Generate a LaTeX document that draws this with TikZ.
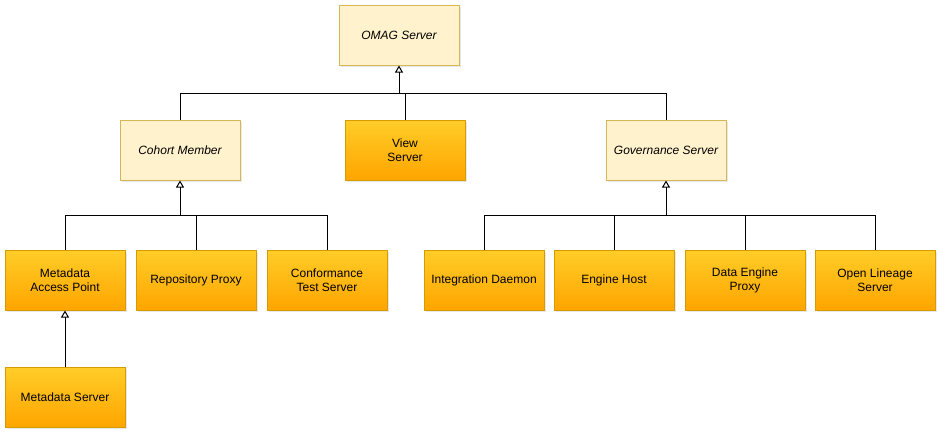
\documentclass[tikz,border=0pt]{standalone}
\usepackage{fontspec}
\setmainfont{Liberation Sans}
\usetikzlibrary{arrows.meta,shadows}
\definecolor{paleyellow}{HTML}{FFF2CC}
\definecolor{paleborder}{HTML}{D6B656}
\definecolor{orangetop}{HTML}{FFCD28}
\definecolor{orangebot}{HTML}{FFA500}
\definecolor{orangeborder}{HTML}{D79B00}
\tikzstyle{base}=[rectangle, minimum width=120pt, minimum height=60pt, inner sep=0pt, align=center, line width=1pt, anchor=center, font=\fontsize{12}{14}\selectfont, drop shadow={shadow xshift=2pt, shadow yshift=-2pt, opacity=0.18}]
\tikzstyle{abstractbox}=[base, fill=paleyellow, draw=paleborder, font=\fontsize{12}{14}\selectfont\itshape]
\tikzstyle{serverbox}=[base, top color=orangetop, bottom color=orangebot, draw=orangeborder]
\tikzstyle{link}=[line width=1pt, black]
\tikzstyle{inherit}=[link, -{Triangle[open, length=7pt, width=8pt]}]

\begin{document}
\begin{tikzpicture}[x=1pt, y=-1pt]
	\useasboundingbox (0,0) rectangle (951,445);

	% top level
	\node[abstractbox](omag) at (399,35){OMAG Server};
	\node[abstractbox](cohort) at (180,150){Cohort Member};
	\node[serverbox](view) at (405,150){View\\Server};
	\node[abstractbox](gov) at (666,150){Governance Server};

	% cohort members
	\node[serverbox](mdap) at (65,280){Metadata\\Access Point};
	\node[serverbox](repoproxy) at (196,280){Repository Proxy};
	\node[serverbox](cts) at (327,280){Conformance\\Test Server};
	\node[serverbox](mds) at (65,397){Metadata Server};

	% governance servers
	\node[serverbox](daemon) at (484,280){Integration Daemon};
	\node[serverbox](enginehost) at (614,280){Engine Host};
	\node[serverbox](deproxy) at (745,280){Data Engine\\Proxy};
	\node[serverbox](lineage) at (875,280){Open Lineage\\Server};

	\coordinate (topjoin) at (399,93);
	\coordinate (cohortjoin) at (180,215);
	\coordinate (govjoin) at (666,215);

	\draw[inherit] (topjoin) -- (omag.south);
	\draw[link] (cohort.north) |- (gov.north |- topjoin) -- (gov.north);
	\draw[link] (view.north) -- (view.north |- topjoin);

	\draw[inherit] (cohortjoin) -- (cohort.south);
	\draw[link] (mdap.north) |- (cts.north |- cohortjoin) -- (cts.north);
	\draw[link] (repoproxy.north) -- (repoproxy.north |- cohortjoin);

	\draw[inherit] (govjoin) -- (gov.south);
	\draw[link] (daemon.north) |- (lineage.north |- govjoin) -- (lineage.north);
	\draw[link] (enginehost.north) -- (enginehost.north |- govjoin);
	\draw[link] (deproxy.north) -- (deproxy.north |- govjoin);

	\draw[inherit] (mds.north) -- (mdap.south);

\end{tikzpicture}
\end{document}
